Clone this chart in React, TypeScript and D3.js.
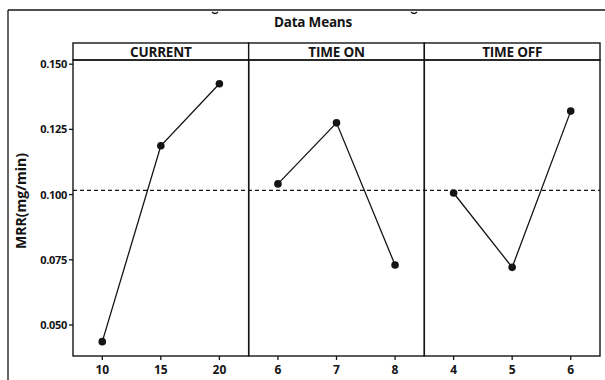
import React from 'react';
import * as d3 from 'd3';

// factor names and their levels
const factors = ['CURRENT', 'TIME ON', 'TIME OFF'];
const currentLevels = ['10', '15', '20'];
const timeOnLevels = ['6', '7', '8'];
const timeOffLevels = ['4', '5', '6'];

// mean MRR at each level
const currentMeans = [0.0436, 0.1187, 0.1425];
const timeOnMeans = [0.1041, 0.1275, 0.0730];
const timeOffMeans = [0.1006, 0.0721, 0.1320];

const yTicks = [0.05, 0.075, 0.1, 0.125, 0.15];

const levels = [currentLevels, timeOnLevels, timeOffLevels];
const means = [currentMeans, timeOnMeans, timeOffMeans];

const W = 605, H = 380;
const margin = { top: 60, right: 5, bottom: 24, left: 73 };
const stripH = 17;
const font = "'Open Sans', 'DejaVu Sans', sans-serif";
const ink = '#141414';

export default function App() {
  const panel = d3.scaleBand()
    .domain(factors)
    .range([margin.left, W - margin.right]);

  const y = d3.scaleLinear()
    .domain([0.0381, 0.1516])
    .range([H - margin.bottom, margin.top]);

  const grandMean = d3.mean(currentMeans) as number;
  const fmt = d3.format('.3f');

  const line = (x: d3.ScalePoint<string>, lv: string[]) =>
    d3.line<number>()
      .x((d, i) => x(lv[i]) as number)
      .y(d => y(d));

  return (
    <svg width={W} height={H} style={{ position: 'absolute', left: 0, top: 0, background: '#fff' }}>
      {/* outer frame, cut off at the edges */}
      <line x1={8} x2={W} y1={10} y2={10} stroke={ink} strokeWidth={1.3} />
      <line x1={8} x2={8} y1={10} y2={H} stroke={ink} strokeWidth={1.3} />
      <path d="M212,12 q3,3 6,0" fill="none" stroke={ink} strokeWidth={1.4} />
      <path d="M411,12 q3,3 6,0" fill="none" stroke={ink} strokeWidth={1.4} />

      <text x={313} y={27} textAnchor="middle" fontFamily={font} fontWeight={700}
        fontSize={13.5} fill={ink} letterSpacing={-0.2}>Data Means</text>

      {/* y axis */}
      <g>
        {yTicks.map(t => (
          <g key={t} transform={`translate(${margin.left},${y(t)})`}>
            <line x1={-4} x2={0} stroke={ink} strokeWidth={1.3} />
            <text x={-6} dy="0.36em" textAnchor="end" fontFamily={font} fontWeight={700}
              fontSize={11} fill={ink} letterSpacing={-0.3}>{fmt(t)}</text>
          </g>
        ))}
        <text transform={`translate(26,${(margin.top + H - margin.bottom) / 2 - 7}) rotate(-90)`}
          textAnchor="middle" fontFamily={font} fontWeight={700} fontSize={14} fill={ink}
          letterSpacing={0}>MRR(mg/min)</text>
      </g>

      {/* mean reference line */}
      <line x1={margin.left} x2={W - margin.right} y1={y(grandMean)} y2={y(grandMean)}
        stroke={ink} strokeWidth={1.3} strokeDasharray="4,3" />

      {factors.map((f, k) => {
        const x0 = panel(f) as number;
        const bw = panel.bandwidth();
        const lv = levels[k];
        const x = d3.scalePoint<string>().domain(lv).range([x0, x0 + bw]).padding(0.5);
        return (
          <g key={f}>
            {/* strip */}
            <rect x={x0} y={margin.top - stripH} width={bw} height={stripH}
              fill="#fff" stroke={ink} strokeWidth={1.4} />
            <text x={x0 + bw / 2} y={margin.top - 3.5} textAnchor="middle" fontFamily={font}
              fontWeight={700} fontSize={13.5} fill={ink} letterSpacing={-0.2}>{f}</text>
            {/* panel box */}
            <rect x={x0} y={margin.top} width={bw} height={H - margin.bottom - margin.top}
              fill="none" stroke={ink} strokeWidth={1.4} />
            {/* x ticks */}
            {lv.map(l => (
              <g key={l} transform={`translate(${x(l)},${H - margin.bottom})`}>
                <line y1={0} y2={4} stroke={ink} strokeWidth={1.3} />
                <text y={18} textAnchor="middle" fontFamily={font} fontWeight={700}
                  fontSize={12} fill={ink}>{l}</text>
              </g>
            ))}
            <path d={line(x, lv)(means[k]) as string} fill="none" stroke={ink} strokeWidth={1.3} />
            {means[k].map((m, i) => (
              <circle key={i} cx={x(lv[i])} cy={y(m)} r={3.8} fill={ink} />
            ))}
          </g>
        );
      })}
    </svg>
  );
}
